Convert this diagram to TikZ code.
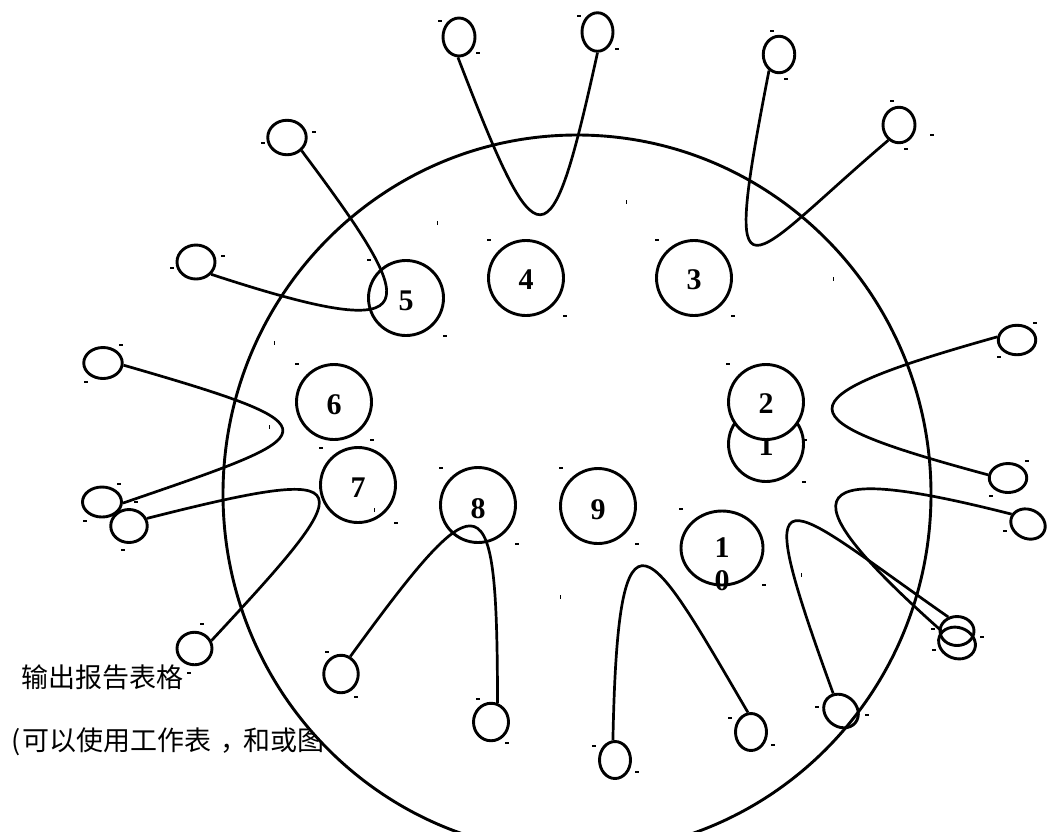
\documentclass[tikz,border=0pt]{standalone}
\usepackage{fontspec}
\setmainfont{Liberation Serif}
\newfontfamily\cjk{Noto Sans CJK SC}
\usetikzlibrary{shapes.geometric}
\begin{document}
\begin{tikzpicture}[x=1pt,y=-1pt,line width=2.9pt,
  numc/.style={circle,draw,fill=white,inner sep=0pt,minimum size=75pt},
  numl/.style={inner sep=0pt,font=\fontsize{30}{33}\selectfont\bfseries,align=center},
  lobe/.style={ellipse,draw,inner sep=0pt},
  wire/.style={line width=2.7pt},
  caption/.style={anchor=base west,inner sep=0pt,font=\cjk\fontsize{27}{27}\selectfont},
  dotbox/.style={fill=black},
  tick/.style={line width=0.9pt}]
\useasboundingbox (0,0) rectangle (1048,831);

% captions, partly covered by the large rim
\node[caption] (cap1) at (20,687) {输出报告表格};
\node[caption] (cap2) at (10,750) {(\hspace{2pt}可以使用工作表\hspace{9pt}，\hspace{-4pt}和或图};

% large rim
\node[ellipse,draw,fill=white,inner sep=0pt,minimum width=708pt,minimum height=718pt] (rim) at (577,494) {};

% numbered circles
\node[numc] (n1) at (766,444) {};
\node[numl] (t1) at (766,446) {1};
\node[numc] (n2) at (766,402) {};
\node[numl] (t2) at (766,404) {2};
\node[numc] (n3) at (694,278) {};
\node[numl] (t3) at (694,280) {3};
\node[numc] (n4) at (526,278) {};
\node[numl] (t4) at (526,280) {4};
\node[numc] (n5) at (406,298) {};
\node[numl] (t5) at (406,301) {5};
\node[numc] (n6) at (334,402) {};
\node[numl] (t6) at (334,405) {6};
\node[numc] (n7) at (358,485) {};
\node[numl] (t7) at (358,488) {7};
\node[numc] (n8) at (478,505) {};
\node[numl] (t8) at (478,509) {8};
\node[numc] (n9) at (598,506) {};
\node[numl] (t9) at (598,510) {9};
\node[ellipse,draw,fill=white,inner sep=0pt,minimum width=82pt,minimum height=74pt] (n10) at (722,548) {};
\node[numl] (t10) at (722,564) {1\\0};

% small end loops
\node[lobe,minimum width=32pt,minimum height=38pt] (eA) at (459,37) {};
\node[lobe,minimum width=31pt,minimum height=38.5pt] (eB) at (597.5,32) {};
\node[lobe,minimum width=31.5pt,minimum height=36.5pt] (eC) at (779,54.5) {};
\node[lobe,minimum width=32pt,minimum height=35.5pt] (eD) at (899,125) {};
\node[lobe,minimum width=38.5pt,minimum height=34.5pt] (eE) at (287,137.5) {};
\node[lobe,minimum width=38pt,minimum height=34pt] (eF) at (196,262) {};
\node[lobe,minimum width=38.5pt,minimum height=31pt] (eG) at (103,363) {};
\node[lobe,minimum width=39pt,minimum height=30pt] (eH) at (102,502) {};
\node[lobe,minimum width=36.5pt,minimum height=33pt] (eI) at (129,526) {};
\node[lobe,minimum width=35pt,minimum height=32.5pt] (eJ) at (194.5,648.5) {};
\node[lobe,minimum width=34.5pt,minimum height=37.5pt] (eK) at (341,674) {};
\node[lobe,minimum width=35pt,minimum height=37.5pt] (eL) at (491,722) {};
\node[lobe,minimum width=31pt,minimum height=37pt] (eM) at (615,760) {};
\node[lobe,minimum width=31pt,minimum height=37pt] (eN) at (751,732) {};
\node[lobe,minimum width=37pt,minimum height=31pt,rotate=-40] (eO) at (841,711) {};
\node[lobe,minimum width=34pt,minimum height=29pt] (eP) at (957,631) {};
\node[lobe,minimum width=37.5pt,minimum height=31pt,rotate=-20] (eU) at (957,643) {};
\node[lobe,minimum width=37.5pt,minimum height=29.5pt] (eQ) at (1017,340) {};
\node[lobe,minimum width=37.5pt,minimum height=29pt] (eR) at (1008,478) {};
\node[lobe,minimum width=35.5pt,minimum height=29pt,rotate=-25] (eS) at (1028,524) {};

% connectors between loops
\draw[wire] (eA.-93) .. controls (539,268) and (550,268) .. (eB.-90);
\draw[wire] (eC.-122) .. controls (720,322) and (745,262) .. (eD.-125);
\draw[wire] (eE.-42) .. controls (420,309) and (436,348) .. (eF.-39);
\draw[wire] (eG.-6) .. controls (345,429) and (327,433) .. (eH.-3);
\draw[wire] (eI.23) .. controls (369,462) and (361,480) .. (eJ.25);
\draw[wire] (eK.62) .. controls (485,471) and (497,480) .. (eL.71);
\draw[wire] (eM.96) .. controls (618,480) and (650,545) .. (eN.99);
\draw[wire] (eO.154) .. controls (745,451) and (782,501) .. (eP.122);
\draw[wire] (eS.174) .. controls (810,463) and (775,483) .. (eU.162);
\draw[wire] (eQ.171) .. controls (772,400) and (785,420) .. (eR.171);

% corner markers
\foreach \p in {(489,240),(565,316),(657,240),(733,316),(369,260),(445,336),
  (297,364),(372,440),(321,448),(396,523),(441,468),(517,544),(561,468),(637,544),
  (681,509),(764,585),(728,364),(805,440),(804,482),
  (440,21),(478,53),(579,16),(617,49),(772,31),(786,79),(892,101),(906,149),(932,135),
  (263,143),(314,132),(172,268),(223,256),(121,345),(86,382),(119,484),(85,521),
  (136,502),(123,550),(202,624),(189,673),(327,652),(356,697),(478,699),(507,743),
  (594,746),(637,772),(730,718),(773,745),(817,707),(867,715),(933,629),(982,637),
  (934,650),(1035,323),(999,357),(1027,461),(991,496),(1005,531)}
  \fill[dotbox] \p ++(-1.8,-1.4) rectangle ++(3.6,2.8);
\foreach \p in {(437,223),(626,202),(833,279),(274,343),(269,427),(374,510),(560,597),(801,575)}
  \draw[tick] \p ++(0,-2) -- ++(0,4);
\end{tikzpicture}
\end{document}
